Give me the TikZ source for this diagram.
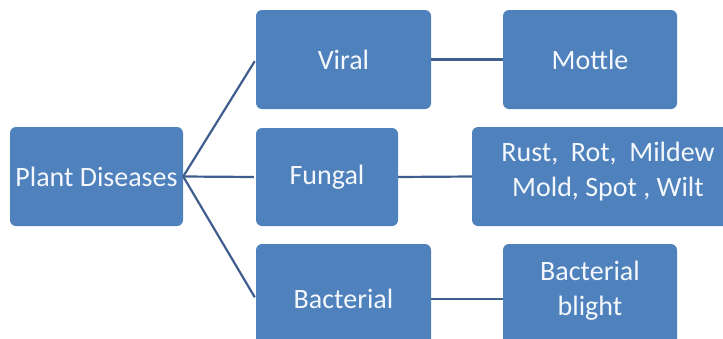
\documentclass[tikz,border=0pt]{standalone}
\usepackage{fontspec}
\setmainfont{Carlito}
\definecolor{boxblue}{HTML}{4F81BD}
\definecolor{linkblue}{HTML}{3F5E8E}
\definecolor{boxtext}{HTML}{F4F8FC}
\begin{document}
\begin{tikzpicture}[x=1pt,y=1pt,
  catbox/.style={rectangle, rounded corners=6pt, fill=boxblue, draw=none,
    text=boxtext, align=center, inner sep=0pt,
    font=\fontsize{28}{35}\selectfont},
  link/.style={draw=linkblue, line width=2.2pt}]
\useasboundingbox (0,0) rectangle (723,-338);
\fill[white] (0,0) rectangle (723,-338);
\begin{scope}
\clip (0,0) rectangle (723,-338);
% root
\node[catbox, minimum width=173pt, minimum height=99pt] (pd) at (96.5,-176.5) {Plant Diseases};
% disease groups
\node[catbox, minimum width=175pt, minimum height=99pt] (viral) at (343.5,-59.5) {Viral};
\node[catbox, minimum width=142pt, minimum height=98pt] (fungal) at (327,-177) {Fungal};
\node[catbox, minimum width=175pt, minimum height=110pt] (bact) at (343.5,-299) {Bacterial};
% examples
\node[catbox, minimum width=174pt, minimum height=99pt] (mottle) at (590,-59.5) {Mottle};
\node[catbox, minimum width=272pt, minimum height=99pt, text depth=15pt] (rust) at (608,-176.5) {Rust,\ \ Rot,\ \ Mildew\\Mold, Spot , Wilt};
\node[catbox, minimum width=174pt, minimum height=110pt, text depth=21pt] (blight) at (590,-299) {Bacterial\\blight};
% connectors
\draw[link, shorten >=2pt] (pd.east) -- (viral.west);
\draw[link, shorten >=2pt] (pd.east) -- (fungal.west);
\draw[link, shorten >=2pt] (pd.east) -- (bact.west);
\draw[link] (viral.east) -- (mottle.west);
\draw[link] (fungal.east) -- (rust.west);
\draw[link] (bact.east) -- (blight.west);
\end{scope}
\end{tikzpicture}
\end{document}
